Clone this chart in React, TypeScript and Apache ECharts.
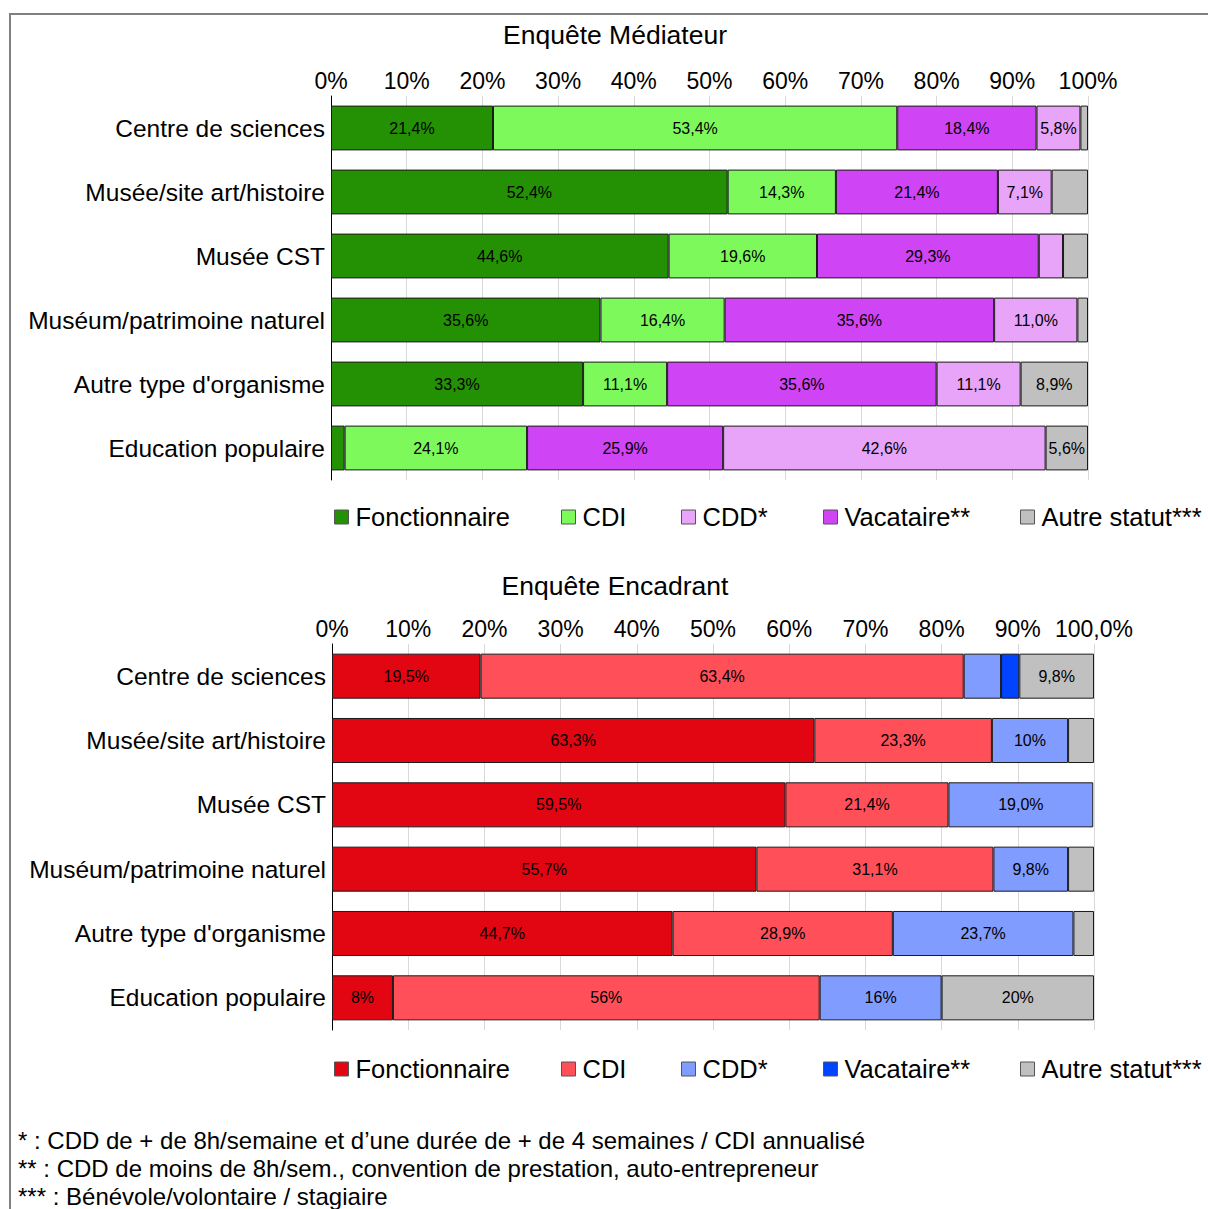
import React, { useEffect, useRef } from "react";
import * as echarts from "echarts";

const categories = [
  "Centre de sciences",
  "Musée/site art/histoire",
  "Musée CST",
  "Muséum/patrimoine naturel",
  "Autre type d'organisme",
  "Education populaire",
];

const legendNames = ["Fonctionnaire", "CDI", "CDD*", "Vacataire**", "Autre statut***"];

// Enquête Médiateur (bar order: Fonctionnaire, CDI, Vacataire, CDD, Autre)
const medFonctionnaire = [21.4, 52.4, 44.6, 35.6, 33.3, 1.8];
const medCDI = [53.4, 14.3, 19.6, 16.4, 11.1, 24.1];
const medVacataire = [18.4, 21.4, 29.3, 35.6, 35.6, 25.9];
const medCDD = [5.8, 7.1, 3.2, 11.0, 11.1, 42.6];
const medAutre = [1.0, 4.8, 3.3, 1.4, 8.9, 5.6];

const medFonctionnaireLabels = ["21,4%", "52,4%", "44,6%", "35,6%", "33,3%", ""];
const medCDILabels = ["53,4%", "14,3%", "19,6%", "16,4%", "11,1%", "24,1%"];
const medVacataireLabels = ["18,4%", "21,4%", "29,3%", "35,6%", "35,6%", "25,9%"];
const medCDDLabels = ["5,8%", "7,1%", "", "11,0%", "11,1%", "42,6%"];
const medAutreLabels = ["", "", "", "", "8,9%", "5,6%"];

// Enquête Encadrant (bar order: Fonctionnaire, CDI, CDD, Vacataire, Autre)
const encFonctionnaire = [19.5, 63.3, 59.5, 55.7, 44.7, 8];
const encCDI = [63.4, 23.3, 21.4, 31.1, 28.9, 56];
const encCDD = [4.9, 10, 19.0, 9.8, 23.7, 16];
const encVacataire = [2.4, 0, 0, 0, 0, 0];
const encAutre = [9.8, 3.4, 0, 3.4, 2.7, 20];

const encFonctionnaireLabels = ["19,5%", "63,3%", "59,5%", "55,7%", "44,7%", "8%"];
const encCDILabels = ["63,4%", "23,3%", "21,4%", "31,1%", "28,9%", "56%"];
const encCDDLabels = ["", "10%", "19,0%", "9,8%", "23,7%", "16%"];
const encVacataireLabels = ["", "", "", "", "", ""];
const encAutreLabels = ["9,8%", "", "", "", "", "20%"];

const topTicks = ["0%", "10%", "20%", "30%", "40%", "50%", "60%", "70%", "80%", "90%", "100%"];
const bottomTicks = ["0%", "10%", "20%", "30%", "40%", "50%", "60%", "70%", "80%", "90%", "100,0%"];

const footnotes = [
  "* : CDD de + de 8h/semaine et d\u2019une durée de + de 4 semaines / CDI annualisé",
  "** : CDD de moins de 8h/sem., convention de prestation, auto-entrepreneur",
  "*** : Bénévole/volontaire / stagiaire",
];

const FONT = "'Liberation Sans', Arial, sans-serif";

const medColors: Record<string, string> = {
  "Fonctionnaire": "#249105",
  "CDI": "#7ef95c",
  "CDD*": "#e8a4f8",
  "Vacataire**": "#cf44f4",
  "Autre statut***": "#c0c0c0",
};
const encColors: Record<string, string> = {
  "Fonctionnaire": "#e20613",
  "CDI": "#ff505a",
  "CDD*": "#809cff",
  "Vacataire**": "#0044ff",
  "Autre statut***": "#c0c0c0",
};

const legendX = [334, 561, 681, 823, 1020];

function App() {
  const ref = useRef<HTMLDivElement>(null);
  useEffect(() => {
    if (!ref.current) return;
    const chart = echarts.init(ref.current, undefined, { renderer: "svg" });

    const mkSeries = (
      name: string,
      values: number[],
      labels: string[],
      color: string,
      idx: number,
      stack: string
    ) => ({
      type: "bar",
      name,
      stack,
      xAxisIndex: idx,
      yAxisIndex: idx,
      barWidth: "70%",
      data: values.map((v) => (v === 0 ? "-" : v)),
      itemStyle: { color, borderColor: "#1a1a1a", borderWidth: 1 },
      label: {
        show: true,
        position: "inside",
        color: "#000",
        fontSize: 16,
        fontFamily: FONT,
        formatter: (p: any) => labels[p.dataIndex],
      },
    });

    const series = [
      mkSeries("Fonctionnaire", medFonctionnaire, medFonctionnaireLabels, medColors["Fonctionnaire"], 0, "med"),
      mkSeries("CDI", medCDI, medCDILabels, medColors["CDI"], 0, "med"),
      mkSeries("Vacataire**", medVacataire, medVacataireLabels, medColors["Vacataire**"], 0, "med"),
      mkSeries("CDD*", medCDD, medCDDLabels, medColors["CDD*"], 0, "med"),
      mkSeries("Autre statut***", medAutre, medAutreLabels, medColors["Autre statut***"], 0, "med"),
      mkSeries("Fonctionnaire ", encFonctionnaire, encFonctionnaireLabels, encColors["Fonctionnaire"], 1, "enc"),
      mkSeries("CDI ", encCDI, encCDILabels, encColors["CDI"], 1, "enc"),
      mkSeries("CDD* ", encCDD, encCDDLabels, encColors["CDD*"], 1, "enc"),
      mkSeries("Vacataire** ", encVacataire, encVacataireLabels, encColors["Vacataire**"], 1, "enc"),
      mkSeries("Autre statut*** ", encAutre, encAutreLabels, encColors["Autre statut***"], 1, "enc"),
    ];

    const mkLegends = (suffix: string, colors: Record<string, string>, top: number) =>
      legendNames.map((n, i) => ({
        left: legendX[i],
        top,
        padding: 0,
        itemWidth: 14,
        itemHeight: 14,
        selectedMode: false,
        formatter: (name: string) => name.trim(),
        textStyle: { fontSize: 25.5, fontFamily: FONT, color: "#000", padding: [0, 0, 0, 2] },
        data: [
          {
            name: n + suffix,
            icon: "rect",
            itemStyle: { color: colors[n], borderColor: "#555", borderWidth: 1 },
          },
        ],
      }));

    const mkX = (idx: number, ticks: string[]) => ({
      type: "value",
      gridIndex: idx,
      position: "top",
      min: 0,
      max: 100,
      interval: 10,
      axisLine: { show: false },
      axisTick: { show: false },
      splitLine: { show: true, lineStyle: { color: "#d9d9d9", width: 1 } },
      axisLabel: {
        margin: 4,
        fontSize: 23,
        fontFamily: FONT,
        color: "#000",
        formatter: (v: number) => ticks[Math.round(v / 10)],
      },
    });
    const mkY = (idx: number) => ({
      type: "category",
      gridIndex: idx,
      inverse: true,
      data: categories,
      axisLine: { show: true, lineStyle: { color: "#000", width: 1 } },
      axisTick: { show: false },
      axisLabel: { margin: 6, fontSize: 24.5, fontFamily: FONT, color: "#000" },
    });

    chart.setOption({
      animation: false,
      backgroundColor: "#fff",
      textStyle: { fontFamily: FONT },
      title: [
        {
          text: "Enquête Médiateur",
          left: 615,
          top: 21,
          padding: 0,
          textAlign: "center",
          textStyle: { fontSize: 26.5, fontWeight: "normal", fontFamily: FONT, color: "#000" },
        },
        {
          text: "Enquête Encadrant",
          left: 615,
          top: 572,
          padding: 0,
          textAlign: "center",
          textStyle: { fontSize: 26.5, fontWeight: "normal", fontFamily: FONT, color: "#000" },
        },
      ],
      legend: [...mkLegends("", medColors, 504), ...mkLegends(" ", encColors, 1056)],
      grid: [
        { left: 331, top: 96, width: 757, height: 384, containLabel: false },
        { left: 332, top: 644, width: 762, height: 386, containLabel: false },
      ],
      xAxis: [mkX(0, topTicks), mkX(1, bottomTicks)],
      yAxis: [mkY(0), mkY(1)],
      series,
      graphic: [
        {
          type: "rect",
          shape: { x: 10, y: 14, width: 1400, height: 1400 },
          style: { fill: "none", stroke: "#808080", lineWidth: 2 },
          silent: true,
        },
        ...footnotes.map((t, i) => ({
          type: "text",
          left: 18,
          top: 1128 + i * 28,
          style: { text: t, fontSize: 24, fontFamily: FONT, fill: "#000" },
        })),
      ],
    });
    return () => chart.dispose();
  }, []);
  return (
    <div
      ref={ref}
      style={{ position: "absolute", left: 0, top: 0, width: 1208, height: 1209 }}
    />
  );
}

export default App;
